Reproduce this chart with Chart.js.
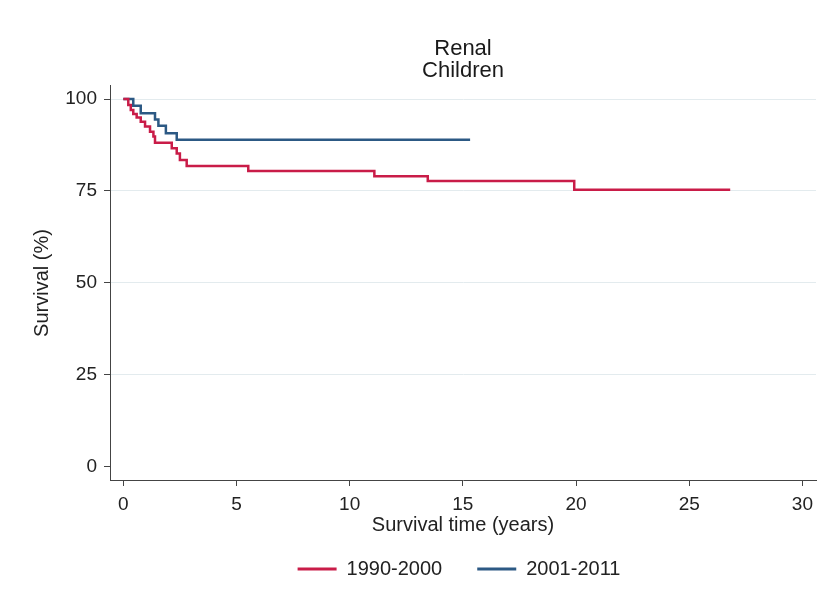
<!DOCTYPE html>
<html>
<head>
<meta charset="utf-8">
<script src="https://cdn.jsdelivr.net/npm/chart.js@4/dist/chart.umd.min.js"></script>
<style>
    html, body { margin: 0; padding: 0; background: #fff; }
</style>
</head>
<body>
<canvas id="graficaSurv" width="826" height="607"></canvas>
<script>
// Kaplan-Meier steps (time in years, survival in %)
const seriesLabels = ['1990-2000', '2001-2011'];

const timesOld = [0, 0.22, 0.33, 0.44, 0.59, 0.77, 0.96, 1.18, 1.33, 1.40, 2.14, 2.36, 2.50, 2.80, 5.52, 11.09, 13.45, 19.92, 26.81];
const survOld  = [100, 98.4, 97.0, 95.9, 95.0, 93.8, 92.5, 91.1, 89.8, 88.1, 86.6, 85.2, 83.4, 81.8, 80.4, 79.0, 77.7, 75.3, 75.3];

const timesNew = [0, 0.44, 0.77, 1.40, 1.55, 1.88, 2.36, 15.32];
const survNew  = [100, 98.2, 96.1, 94.4, 92.7, 90.7, 88.9, 88.9];

const xTicks = [0, 5, 10, 15, 20, 25, 30];
const yTicks = [0, 25, 50, 75, 100];

const RED = '#c91c48';
const BLUE = '#2c5984';
const FONT = "'Liberation Sans', Arial, sans-serif";

function puntos(ts, ys) {
    return ts.map((t, i) => ({ x: t, y: ys[i] }));
}

// title and legend are centred on the plot region, not the whole canvas
const centrarEnPlot = {
    id: 'centrarEnPlot',
    afterLayout(chart) {
        const area = chart.chartArea;
        const mid = (area.left + area.right) / 2;
        const t = chart.titleBlock;
        const dt = mid - (t.left + t.right) / 2;
        t.left += dt; t.right += dt;
        const lg = chart.legend;
        const dl = mid - 4 - (lg.left + lg.right) / 2;
        lg.left += dl; lg.right += dl;
        lg.top -= 20; lg.bottom -= 20;
    }
};

new Chart(document.getElementById('graficaSurv').getContext('2d'), {
    type: 'line',
    data: {
        datasets: [{
            label: seriesLabels[0],
            data: puntos(timesOld, survOld),
            borderColor: RED,
            backgroundColor: RED,
            borderWidth: 2.5,
            stepped: true,
            pointRadius: 0,
            fill: false
        }, {
            label: seriesLabels[1],
            data: puntos(timesNew, survNew),
            borderColor: BLUE,
            backgroundColor: BLUE,
            borderWidth: 2.5,
            stepped: true,
            pointRadius: 0,
            fill: false
        }]
    },
    options: {
        responsive: false,
        animation: false,
        layout: { padding: { left: 0, right: 10, top: 0, bottom: -2 } },
        plugins: {
            title: {
                display: true,
                text: ['Renal', 'Children'],
                color: '#1a1a1a',
                font: { family: FONT, size: 22, weight: 'normal', lineHeight: 1.0227 },
                padding: { top: 37.5, bottom: 3.5 }
            },
            legend: {
                position: 'bottom',
                labels: {
                    color: '#222',
                    font: { family: FONT, size: 20 },
                    boxWidth: 39,
                    boxHeight: 3,
                    padding: 35,
                    generateLabels(chart) {
                        const items = Chart.defaults.plugins.legend.labels.generateLabels(chart);
                        items.forEach(it => { it.lineWidth = 0; });
                        return items;
                    }
                }
            },
            tooltip: { enabled: false }
        },
        scales: {
            x: {
                type: 'linear',
                min: -0.588,
                max: 30.6,
                afterBuildTicks: s => { s.ticks = xTicks.map(v => ({ value: v })); },
                afterFit: s => { s.height = 64; },
                ticks: { color: '#222', font: { family: FONT, size: 19 }, padding: 7 },
                grid: { drawOnChartArea: false, tickLength: 6, tickColor: '#444', tickWidth: 1 },
                border: { color: '#444', width: 1 },
                title: {
                    display: true,
                    text: 'Survival time (years)',
                    color: '#222',
                    font: { family: FONT, size: 20 },
                    padding: { top: 0, bottom: 7 }
                }
            },
            y: {
                min: -3.61,
                max: 103.54,
                afterBuildTicks: s => { s.ticks = yTicks.map(v => ({ value: v })); },
                afterFit: s => { s.width = 110; },
                ticks: { color: '#222', font: { family: FONT, size: 19 }, padding: 7 },
                grid: {
                    color: c => (c.tick && c.tick.value === 0) ? 'rgba(0,0,0,0)' : '#e3ebee',
                    lineWidth: 1,
                    tickLength: 6,
                    tickColor: '#444',
                    tickWidth: 1
                },
                border: { color: '#444', width: 1 },
                title: {
                    display: true,
                    text: 'Survival (%)',
                    color: '#222',
                    font: { family: FONT, size: 20 },
                    padding: { top: 30.5, bottom: 0 }
                }
            }
        }
    },
    plugins: [centrarEnPlot]
});
</script>
</body>
</html>
